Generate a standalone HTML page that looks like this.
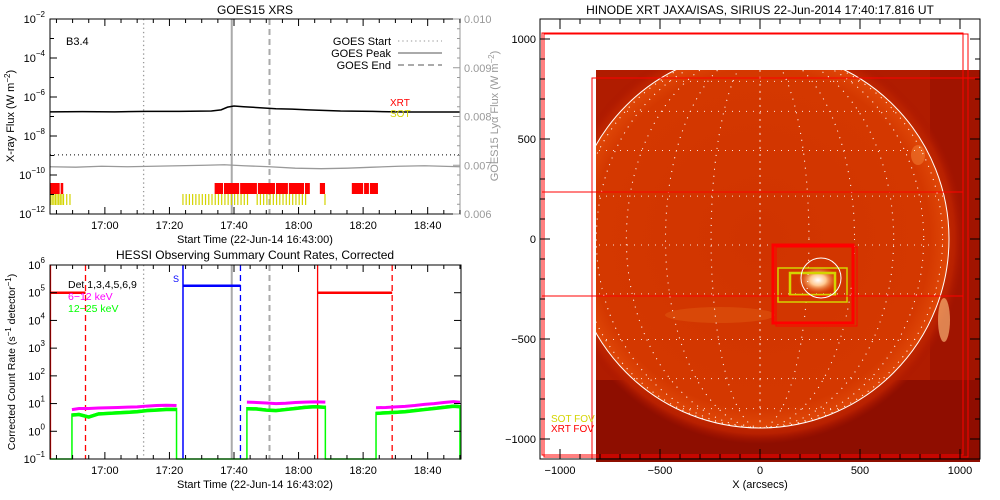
<!DOCTYPE html>
<html><head><meta charset="utf-8"><style>
html,body{margin:0;padding:0;background:#fff}
svg{display:block}
text{font-family:"Liberation Sans",sans-serif}
</style></head><body>
<svg id="s" width="1000" height="500" viewBox="0 0 1000 500" xmlns="http://www.w3.org/2000/svg">
<defs>
<radialGradient id="disk" cx="0.5" cy="0.5" r="0.5">
<stop offset="0" stop-color="#d03400"/><stop offset="0.9" stop-color="#d43800"/><stop offset="1" stop-color="#e04808"/>
</radialGradient>
<radialGradient id="corona" cx="0.5" cy="0.5" r="0.5">
<stop offset="0.85" stop-color="#cc3600"/><stop offset="0.95" stop-color="#b82000"/><stop offset="1" stop-color="#a81400" stop-opacity="0"/>
</radialGradient>
<radialGradient id="ar" cx="0.5" cy="0.5" r="0.5"><stop offset="0" stop-color="#fff"/><stop offset="0.4" stop-color="#ffc890"/><stop offset="1" stop-color="#e06010" stop-opacity="0"/></radialGradient>
<clipPath id="imgclip"><rect x="596" y="70" width="384" height="392"/></clipPath>
<clipPath id="diskclip"><circle cx="760" cy="239" r="189"/></clipPath>
</defs>
<g id="goes"></g>
<g id="hessi"></g>
<g id="xrt"></g>
</svg>
<script>
// ---------- GOES data ----------
const goesMinutes = [0,10,20,30,40,50,53,55,57,60,65,70,75,80,90,100,110,120,127];
const goesLogFlux = [-6.76,-6.75,-6.76,-6.74,-6.74,-6.72,-6.66,-6.52,-6.46,-6.5,-6.55,-6.6,-6.62,-6.66,-6.72,-6.74,-6.77,-6.77,-6.77];
const lyaMinutes = [0,8,16,24,32,40,48,54,60,68,76,84,92,100,108,116,127];
const lyaFlux = [0.00697,0.00696,0.00698,0.00697,0.00698,0.00699,0.00700,0.00701,0.00699,0.00697,0.00694,0.00693,0.00694,0.00696,0.00698,0.00699,0.00697];
const thresholdLog = -8.97;
const timeTickLabels = ["17:00","17:20","17:40","18:00","18:20","18:40"];
const timeTickMinutes = [17,37,57,77,97,117];
const goesYLabels = ["-2","-4","-6","-8","-10","-12"];
const lyaTickLabels = ["0.006","0.007","0.008","0.009","0.010"];
const xrtStart = [0,3.3,51,53.9,58.9,64.4,70,74,79,83.6,93.5,97.3,99.1];
const xrtEnd   = [3,4.1,53.6,58.6,64.1,69.7,73.7,78.7,80.5,85.2,97,98.8,101.6];
const sotTicks = [0,0.5,1,1.5,2,2.5,3,3.5,4,5,6,41,42,43,44,45,46,47,48,49,50,51,52,53,54,55,56,57,58,59,60,61,64,65,66,67,68,69,70,71,72,73,74,75,76,77,78,79,85];
const eventStart = 29, eventPeak = 56.3, eventEnd = 68;
// ---------- HESSI data ----------
const hessiSeg1T = [6.8,9,12,15,18,21,24,27,30,33,36,39.2];
const hessiSeg1Mag = [0.78,0.82,0.82,0.84,0.85,0.86,0.87,0.88,0.91,0.93,0.94,0.93];
const hessiSeg1Grn = [0.62,0.64,0.55,0.66,0.68,0.7,0.72,0.74,0.78,0.8,0.82,0.82];
const hessiSeg2T = [61,64,67,70,73,76,79,82,85.3];
const hessiSeg2Mag = [1.05,1.04,1.02,1.0,1.01,1.04,1.05,1.06,1.05];
const hessiSeg2Grn = [0.85,0.84,0.8,0.78,0.82,0.86,0.9,0.92,0.9];
const hessiSeg3T = [101,104,107,110,113,116,119,122,125,127];
const hessiSeg3Mag = [0.85,0.86,0.88,0.9,0.93,0.97,1.0,1.04,1.07,1.05];
const hessiSeg3Grn = [0.68,0.7,0.72,0.74,0.78,0.82,0.86,0.9,0.94,0.92];
const hessiYLabels = ["-1","0","1","2","3","4","5","6"];
const attenT = [[0,11],[82.9,106]], saaT = [[41.2,59]];

const NS="http://www.w3.org/2000/svg";
function mk(parent, tag, attrs, txt){const e=document.createElementNS(NS,tag);for(const k in attrs)e.setAttribute(k,attrs[k]);if(txt!==undefined)e.textContent=txt;parent.appendChild(e);return e;}

// ======== GOES panel ========
const G=document.getElementById('goes');
const gx0=50,gx1=460,gy0=19,gy1=214;
const gX=m=>gx0+m*3.228;
const gY=l=>gy0+(-2-l)*(gy1-gy0)/10;
const gR=v=>gy1-(v-0.006)/0.004*(gy1-gy0);
let t=mk(G,'text',{x:255,y:14,'text-anchor':'middle','font-size':12},'GOES15 XRS');


let l=mk(G,'line',{x1:gX(eventStart),x2:gX(eventStart),y1:gy0,y2:gy1,stroke:'#999','stroke-width':1.3,'stroke-dasharray':'1.3 3'});


l=mk(G,'line',{x1:gX(eventPeak),x2:gX(eventPeak),y1:gy0,y2:gy1,stroke:'#aaa','stroke-width':2});


l=mk(G,'line',{x1:gX(eventEnd),x2:gX(eventEnd),y1:gy0,y2:gy1,stroke:'#aaa','stroke-width':2,'stroke-dasharray':'6 4'});


l=mk(G,'line',{x1:gx0,x2:gx1,y1:gY(thresholdLog),y2:gY(thresholdLog),stroke:'#000','stroke-width':1,'stroke-dasharray':'1 3'});


let p=mk(G,'polyline',{points:lyaMinutes.map((m,i)=>gX(m)+','+gR(lyaFlux[i])).join(' '),fill:'none',stroke:'#999','stroke-width':1.3});


p=mk(G,'polyline',{points:goesMinutes.map((m,i)=>gX(m)+','+gY(goesLogFlux[i])).join(' '),fill:'none',stroke:'#000','stroke-width':1.5});


xrtStart.forEach((s,i)=>{const r=mk(G,'rect',{x:gX(s),y:183,width:gX(xrtEnd[i])-gX(s),height:11,fill:'#f00'});

});
sotTicks.forEach(m=>{const r=mk(G,'rect',{x:gX(m),y:194,width:1.2,height:11,fill:'#d4d400'});

});
let b=mk(G,'rect',{x:gx0,y:gy0,width:gx1-gx0,height:gy1-gy0,fill:'none',stroke:'#000'});


mk(G,'line',{x1:gx1,x2:gx1,y1:gy0,y2:gy1,stroke:'#999'});
for(let d=-2;d>=-12;d--){mk(G,'line',{x1:gx0,x2:gx0+(d%2===0?7:4),y1:gY(d),y2:gY(d),stroke:'#000'});}
goesYLabels.forEach(s=>{const y=gY(+s);const tx=mk(G,'text',{x:45,y:y+4,'text-anchor':'end','font-size':11},'10');
mk(tx,'tspan',{dy:-6,'font-size':8},'−'+s.slice(1));

});
for(let v=0;v<=40;v++){const y=gR(0.006+v*0.0001);mk(G,'line',{x1:gx1,x2:gx1-(v%10===0?7:(v%2===0?3:0)),y1:y,y2:y,stroke:'#999'});}
lyaTickLabels.forEach(s=>{const tx=mk(G,'text',{x:464,y:gR(+s)+4,'font-size':11,fill:'#999'},s);

});
for(let m=2;m<=127;m+=5){const x=gX(m);const big=(m-17)%20===0;mk(G,'line',{x1:x,x2:x,y1:gy1,y2:gy1-(big?7:4),stroke:'#000'});mk(G,'line',{x1:x,x2:x,y1:gy0,y2:gy0+(big?7:4),stroke:'#000'});}
timeTickLabels.forEach((s,i)=>{const tx=mk(G,'text',{x:gX(timeTickMinutes[i]),y:229,'text-anchor':'middle','font-size':11},s);

});
t=mk(G,'text',{x:255,y:243,'text-anchor':'middle','font-size':11},'Start Time (22-Jun-14 16:43:00)');


t=mk(G,'text',{x:0,y:0,'text-anchor':'middle','font-size':11,transform:'translate(14,116) rotate(-90)'},'X-ray Flux (W m');
mk(t,'tspan',{dy:-4,'font-size':8},'−2');mk(t,'tspan',{dy:4},')');


t=mk(G,'text',{x:0,y:0,'text-anchor':'middle','font-size':11,fill:'#999',transform:'translate(498,116) rotate(-90)'},'GOES15 Lyα Flux (W m');
mk(t,'tspan',{dy:-4,'font-size':8},'−2');mk(t,'tspan',{dy:4},')');


t=mk(G,'text',{x:66,y:45,'font-size':11},'B3.4');


[['GOES Start','1.3 3',41],['GOES Peak','',53],['GOES End','6 4',65]].forEach(a=>{
const tx=mk(G,'text',{x:391,y:a[2]+4,'text-anchor':'end','font-size':11},a[0]);


mk(G,'line',{x1:398,x2:442,y1:a[2],y2:a[2],stroke:'#aaa','stroke-width':a[1]==='1.3 3'?1.3:2,'stroke-dasharray':a[1]});});
t=mk(G,'text',{x:390,y:106,'font-size':10,fill:'#f00'},'XRT');


t=mk(G,'text',{x:390,y:117,'font-size':10,fill:'#d4d400'},'SOT');



// ======== HESSI panel ========
const H=document.getElementById('hessi');
const hx0=50,hx1=461,hy0=265,hy1=459;
const hX=m=>hx0+m*3.228;
const hY=l=>hy1-(l+1)*(hy1-hy0)/7;
t=mk(H,'text',{x:255,y:259,'text-anchor':'middle','font-size':12},'HESSI Observing Summary Count Rates, Corrected');


function vline(x,c,w,dash,name){const e=mk(H,'line',{x1:x,x2:x,y1:hy0,y2:hy1,stroke:c,'stroke-width':w,'stroke-dasharray':dash||''});

}
vline(gX(eventStart),'#999',1.3,'1.3 3','hessi-goes-start-line');
vline(gX(eventPeak),'#aaa',2,'','hessi-goes-peak-line');
vline(gX(eventEnd),'#aaa',2,'6 4','hessi-goes-end-line');
vline(hX(attenT[0][0])+0.5,'#f00',1.3,'','night-start-line');
vline(hX(attenT[0][1]),'#f00',1.3,'6 4','night-end-line');
vline(hX(attenT[1][0]),'#f00',1.3,'','night2-start-line');
vline(hX(attenT[1][1]),'#f00',1.3,'6 4','night2-end-line');
vline(hX(saaT[0][0]),'#00f',1.5,'','saa-start-line');
vline(hX(saaT[0][1]),'#00f',1.3,'6 4','saa-end-line');
attenT.forEach(a=>{const e=mk(H,'line',{x1:hX(a[0]),x2:hX(a[1]),y1:hY(5),y2:hY(5),stroke:'#f00','stroke-width':2.5});

});
saaT.forEach(a=>{const e=mk(H,'line',{x1:hX(a[0]),x2:hX(a[1]),y1:hY(5.25),y2:hY(5.25),stroke:'#00f','stroke-width':2.5});

});
t=mk(H,'text',{x:173,y:282,'font-size':9,fill:'#00f'},'S');


const segs=[[hessiSeg1T,hessiSeg1Mag,hessiSeg1Grn],[hessiSeg2T,hessiSeg2Mag,hessiSeg2Grn],[hessiSeg3T,hessiSeg3Mag,hessiSeg3Grn]];
let gpts=[[0,-1]];
segs.forEach(s=>{gpts.push([s[0][0],-1]);s[0].forEach((m,i)=>gpts.push([m,s[2][i]]));gpts.push([s[0][s[0].length-1],-1]);});
gpts.push([127.3,-1]);
segs.forEach(s=>{
const pm=mk(H,'polyline',{points:s[0].map((m,i)=>hX(m)+','+hY(s[1][i])).join(' '),fill:'none',stroke:'#f0f','stroke-width':3});

});
p=mk(H,'polyline',{points:gpts.map(a=>hX(a[0])+','+hY(a[1])).join(' '),fill:'none',stroke:'#0f0','stroke-width':1.5});


segs.forEach(s=>{const pg=mk(H,'polyline',{points:s[0].map((m,i)=>hX(m)+','+(hY(s[2][i])+1)).join(' '),fill:'none',stroke:'#0f0','stroke-width':3.5});

});
b=mk(H,'rect',{x:hx0,y:hy0,width:hx1-hx0,height:hy1-hy0,fill:'none',stroke:'#000'});


hessiYLabels.forEach(s=>{const y=hY(+s);mk(H,'line',{x1:hx0,x2:hx0+7,y1:y,y2:y,stroke:'#000'});mk(H,'line',{x1:hx1,x2:hx1-7,y1:y,y2:y,stroke:'#000'});
const tx=mk(H,'text',{x:45,y:y+4,'text-anchor':'end','font-size':11},'10');
mk(tx,'tspan',{dy:-6,'font-size':8},s.replace('-','−'));

});
for(let m=2;m<=127;m+=5){const x=hX(m);const big=(m-17)%20===0;mk(H,'line',{x1:x,x2:x,y1:hy1,y2:hy1-(big?7:4),stroke:'#000'});mk(H,'line',{x1:x,x2:x,y1:hy0,y2:hy0+(big?7:4),stroke:'#000'});}
timeTickLabels.forEach((s,i)=>{const tx=mk(H,'text',{x:hX(timeTickMinutes[i]),y:474,'text-anchor':'middle','font-size':11},s);

});
t=mk(H,'text',{x:255,y:488,'text-anchor':'middle','font-size':11},'Start Time (22-Jun-14 16:43:02)');


t=mk(H,'text',{x:0,y:0,'text-anchor':'middle','font-size':10.5,transform:'translate(15,362) rotate(-90)'},'Corrected Count Rate (s');
mk(t,'tspan',{dy:-4,'font-size':8},'−1');mk(t,'tspan',{dy:4},' detector');mk(t,'tspan',{dy:-4,'font-size':8},'−1');mk(t,'tspan',{dy:4},')');


t=mk(H,'text',{x:68,y:288,'font-size':10.5},'Det 1,3,4,5,6,9');


t=mk(H,'text',{x:68,y:300,'font-size':10.5,fill:'#f0f'},'6−12 keV');


t=mk(H,'text',{x:68,y:312,'font-size':10.5,fill:'#0f0'},'12−25 keV');



// ======== XRT panel ========
const X=document.getElementById('xrt');
const rx0=540,rx1=980,ry0=19,ry1=459;
const aX=a=>760+a*0.2, aY=a=>239-a*0.2;
t=mk(X,'text',{x:760,y:14,'text-anchor':'middle','font-size':12},'HINODE XRT JAXA/ISAS, SIRIUS 22-Jun-2014 17:40:17.816 UT');


const img=mk(X,'g',{'clip-path':'url(#imgclip)'});


mk(img,'rect',{x:596,y:70,width:384,height:392,fill:'#b01c00'});
mk(img,'rect',{x:596,y:380,width:384,height:82,fill:'#800800',opacity:0.7});
mk(img,'rect',{x:930,y:70,width:50,height:392,fill:'#900c00',opacity:0.5});
mk(img,'circle',{cx:760,cy:239,r:205,fill:'url(#corona)'});
const sun=mk(img,'circle',{cx:760,cy:239,r:189,fill:'url(#disk)'});


mk(img,'ellipse',{cx:944,cy:320,rx:6,ry:22,fill:'#f8b070',opacity:0.7});
mk(img,'ellipse',{cx:918,cy:155,rx:7,ry:10,fill:'#f07a30',opacity:0.6});
mk(img,'ellipse',{cx:720,cy:315,rx:55,ry:8,fill:'#e05a10',opacity:0.5});
const ar=mk(img,'ellipse',{cx:818,cy:280,rx:20,ry:14,fill:'url(#ar)'});


const grid=mk(img,'g',{'clip-path':'url(#diskclip)',stroke:'#fff','stroke-width':1,'stroke-dasharray':'1 6',fill:'none',opacity:0.85});


for(let lon=-75;lon<=75;lon+=15){mk(grid,'ellipse',{cx:760,cy:239,rx:Math.abs(189*Math.sin(lon*Math.PI/180))+0.01,ry:189});}
for(let lat=-75;lat<=75;lat+=15){const y=239-189*Math.sin(lat*Math.PI/180)+6;mk(grid,'line',{x1:571,x2:949,y1:y,y2:y});}
const limb=mk(X,'circle',{cx:760,cy:239,r:189,fill:'none',stroke:'#fff','stroke-width':1});


function rb(x,y,w,h,c,sw,name){const e=mk(X,'rect',{x:x,y:y,width:w,height:h,fill:'none',stroke:c,'stroke-width':sw});

}
rb(542,33,421,422,'#f00',1,'xrt-fov-box');
rb(544,34,424,423,'#f00',1,'xrt-fov-box-2');
rb(592,78,388,381,'#f00',1,'xrt-fov-box-3');
rb(773,245,80,78,'#f00',3,'xrt-fov-small-box');
rb(776,247,81,79,'#f00',1,'xrt-fov-small-box-2');
rb(778,268,69,34,'#d4d400',1.5,'sot-fov-box');
rb(790,273,45,22,'#d4d400',2.5,'sot-fov-inner-box');
mk(X,'line',{x1:542,x2:963,y1:192,y2:192,stroke:'#f00'});
mk(X,'line',{x1:542,x2:963,y1:296,y2:296,stroke:'#f00'});
const ac=mk(X,'circle',{cx:821,cy:278,r:20,fill:'none',stroke:'#fff','stroke-width':1});


b=mk(X,'rect',{x:rx0,y:ry0,width:rx1-rx0,height:ry1-ry0,fill:'none',stroke:'#000'});


for(let a=-1000;a<=1000;a+=100){const big=a%500===0;const x=aX(a),y=aY(a);
mk(X,'line',{x1:x,x2:x,y1:ry1,y2:ry1-(big?10:5),stroke:'#000'});mk(X,'line',{x1:x,x2:x,y1:ry0,y2:ry0+(big?10:5),stroke:'#000'});
mk(X,'line',{x1:rx0,x2:rx0+(big?10:5),y1:y,y2:y,stroke:'#000'});mk(X,'line',{x1:rx1,x2:rx1-(big?10:5),y1:y,y2:y,stroke:'#000'});}
["-1000","-500","0","500","1000"].forEach(s=>{
const tx=mk(X,'text',{x:aX(+s),y:474,'text-anchor':'middle','font-size':11},s.replace('-','−'));


const ty=mk(X,'text',{x:536,y:aY(+s)+4,'text-anchor':'end','font-size':11},s.replace('-','−'));

});
t=mk(X,'text',{x:760,y:488,'text-anchor':'middle','font-size':11},'X (arcsecs)');


t=mk(X,'text',{x:551,y:422,'font-size':10,fill:'#d4d400'},'SOT FOV');


t=mk(X,'text',{x:551,y:432,'font-size':10,fill:'#f00'},'XRT FOV');


</script>
</body></html>
